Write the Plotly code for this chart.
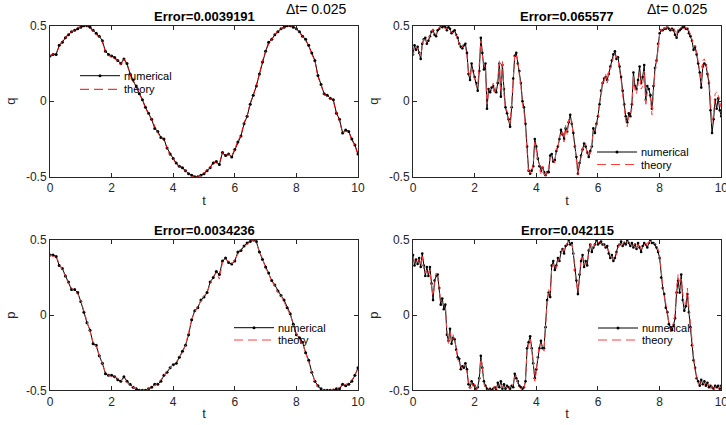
import plotly.graph_objects as go

W, H = 726, 425

# ---------------- data ----------------
dt_left = 0.1
dt_right = 0.05
t_left = [round(i * dt_left, 3) for i in range(101)]
t_right = [round(i * dt_right, 3) for i in range(201)]

# top-left: q (numerical / theory)
q_num_L = [0.30, 0.31, 0.31, 0.37, 0.39, 0.42, 0.44, 0.46, 0.47, 0.48,
           0.49, 0.50, 0.50, 0.49, 0.47, 0.45, 0.43, 0.40, 0.33, 0.31,
           0.30, 0.29, 0.27, 0.25, 0.28, 0.25, 0.18, 0.14, 0.10, 0.05,
           0.01, -0.04, -0.08, -0.12, -0.18, -0.20, -0.24, -0.25, -0.31, -0.35,
           -0.38, -0.41, -0.43, -0.44, -0.46, -0.48, -0.49, -0.50, -0.50, -0.49,
           -0.48, -0.46, -0.44, -0.41, -0.40, -0.42, -0.34, -0.36, -0.35, -0.37,
           -0.32, -0.27, -0.23, -0.15, -0.10, -0.02, 0.04, 0.10, 0.18, 0.26,
           0.33, 0.39, 0.41, 0.44, 0.46, 0.48, 0.49, 0.50, 0.50, 0.49,
           0.48, 0.46, 0.43, 0.41, 0.37, 0.32, 0.27, 0.17, 0.11, 0.05,
           0.04, 0.02, 0.01, -0.08, -0.12, -0.21, -0.19, -0.20, -0.25, -0.29,
           -0.35]
q_th_L = [0.30, 0.31, 0.32, 0.36, 0.40, 0.42, 0.45, 0.46, 0.47, 0.49,
          0.49, 0.50, 0.50, 0.48, 0.47, 0.44, 0.43, 0.39, 0.33, 0.30,
          0.30, 0.28, 0.27, 0.24, 0.28, 0.24, 0.18, 0.13, 0.10, 0.05,
          0.00, -0.04, -0.09, -0.12, -0.17, -0.21, -0.24, -0.26, -0.31, -0.36,
          -0.38, -0.42, -0.43, -0.45, -0.46, -0.48, -0.50, -0.50, -0.50, -0.49,
          -0.48, -0.45, -0.44, -0.40, -0.41, -0.41, -0.34, -0.37, -0.35, -0.36,
          -0.32, -0.26, -0.23, -0.14, -0.10, -0.01, 0.04, 0.11, 0.18, 0.27,
          0.33, 0.38, 0.41, 0.44, 0.47, 0.48, 0.49, 0.50, 0.50, 0.49,
          0.48, 0.45, 0.43, 0.40, 0.37, 0.31, 0.27, 0.16, 0.11, 0.04,
          0.04, 0.02, 0.00, -0.08, -0.13, -0.21, -0.20, -0.20, -0.26, -0.29,
          -0.36]

# bottom-left: p (numerical / theory)
p_num_L = [0.40, 0.40, 0.39, 0.33, 0.31, 0.26, 0.22, 0.17, 0.17, 0.15,
           0.09, 0.02, -0.05, -0.10, -0.19, -0.20, -0.27, -0.32, -0.39, -0.40,
           -0.40, -0.41, -0.43, -0.44, -0.41, -0.44, -0.46, -0.48, -0.49, -0.50,
           -0.50, -0.50, -0.49, -0.48, -0.46, -0.46, -0.44, -0.40, -0.38, -0.35,
           -0.33, -0.32, -0.28, -0.24, -0.20, -0.13, -0.03, 0.03, 0.05, 0.10,
           0.12, 0.15, 0.22, 0.25, 0.29, 0.27, 0.36, 0.38, 0.35, 0.34,
           0.36, 0.42, 0.43, 0.46, 0.48, 0.49, 0.50, 0.49, 0.42, 0.37,
           0.32, 0.28, 0.23, 0.20, 0.16, 0.13, 0.10, 0.05, 0.01, -0.06,
           -0.13, -0.15, -0.18, -0.25, -0.30, -0.38, -0.44, -0.47, -0.49, -0.50,
           -0.50, -0.50, -0.50, -0.49, -0.49, -0.46, -0.47, -0.46, -0.44, -0.40,
           -0.35]
p_th_L = [0.40, 0.39, 0.39, 0.34, 0.30, 0.26, 0.21, 0.18, 0.16, 0.14,
          0.10, 0.02, -0.04, -0.11, -0.18, -0.21, -0.27, -0.33, -0.38, -0.40,
          -0.41, -0.41, -0.42, -0.44, -0.42, -0.45, -0.46, -0.48, -0.49, -0.50,
          -0.50, -0.50, -0.49, -0.47, -0.47, -0.45, -0.43, -0.40, -0.37, -0.35,
          -0.33, -0.31, -0.28, -0.25, -0.20, -0.12, -0.03, 0.02, 0.06, 0.10,
          0.13, 0.15, 0.21, 0.26, 0.28, 0.24, 0.35, 0.37, 0.36, 0.34,
          0.37, 0.41, 0.44, 0.46, 0.47, 0.49, 0.50, 0.48, 0.42, 0.38,
          0.31, 0.28, 0.22, 0.20, 0.15, 0.13, 0.09, 0.05, 0.00, -0.06,
          -0.12, -0.16, -0.19, -0.25, -0.31, -0.37, -0.44, -0.48, -0.49, -0.50,
          -0.50, -0.50, -0.49, -0.49, -0.48, -0.46, -0.46, -0.45, -0.43, -0.40,
          -0.36]

# top-right: q (numerical / theory)
q_num_R = [0.31, 0.37, 0.34, 0.36, 0.32, 0.28, 0.38, 0.41, 0.42, 0.38,
           0.40, 0.43, 0.46, 0.47, 0.44, 0.43, 0.47, 0.48, 0.50, 0.49,
           0.50, 0.49, 0.47, 0.49, 0.48, 0.45, 0.46, 0.47, 0.44, 0.42,
           0.38, 0.36, 0.35, 0.37, 0.38, 0.32, 0.18, 0.14, 0.25, 0.20,
           0.16, 0.12, 0.07, 0.20, 0.42, 0.32, 0.21, 0.25, -0.05, 0.08,
           0.06, 0.09, 0.10, 0.07, 0.06, 0.12, 0.25, 0.03, 0.24, 0.08,
           -0.04, -0.08, -0.12, -0.17, -0.04, 0.15, 0.30, 0.32, 0.25, 0.20,
           0.12, 0.00, -0.04, -0.15, -0.30, -0.46, -0.48, -0.46, -0.43, -0.25,
           -0.30, -0.38, -0.43, -0.46, -0.44, -0.47, -0.49, -0.47, -0.47, -0.36,
           -0.35, -0.40, -0.39, -0.33, -0.30, -0.25, -0.19, -0.22, -0.25, -0.18,
           -0.20, -0.14, -0.09, -0.15, -0.21, -0.30, -0.37, -0.48, -0.41, -0.36,
           -0.32, -0.28, -0.30, -0.34, -0.37, -0.33, -0.30, -0.18, -0.21, -0.15,
           -0.10, -0.02, 0.07, 0.12, 0.15, 0.16, 0.14, 0.18, 0.23, 0.27,
           0.31, 0.33, 0.28, 0.29, 0.23, 0.16, 0.07, -0.02, -0.10, -0.14,
           -0.08, -0.10, -0.02, 0.19, 0.10, 0.08, 0.14, 0.23, 0.12, 0.16,
           0.24, 0.01, 0.10, 0.08, 0.04, -0.05, 0.10, 0.22, 0.27, 0.38,
           0.45, 0.47, 0.47, 0.48, 0.48, 0.49, 0.48, 0.47, 0.48, 0.47,
           0.44, 0.42, 0.46, 0.47, 0.48, 0.49, 0.49, 0.48, 0.48, 0.45,
           0.43, 0.40, 0.34, 0.36, 0.31, 0.25, 0.19, 0.09, 0.23, 0.25,
           0.24, 0.18, 0.12, -0.06, -0.21, -0.12, 0.01, -0.05, 0.02, -0.06,
           -0.10]
q_th_R = [0.30, 0.35, 0.36, 0.34, 0.31, 0.30, 0.36, 0.42, 0.40, 0.39,
          0.41, 0.44, 0.45, 0.48, 0.45, 0.44, 0.46, 0.49, 0.49, 0.50,
          0.49, 0.48, 0.48, 0.47, 0.47, 0.46, 0.45, 0.46, 0.43, 0.40,
          0.37, 0.35, 0.36, 0.38, 0.36, 0.30, 0.20, 0.16, 0.22, 0.18,
          0.15, 0.10, 0.10, 0.24, 0.40, 0.30, 0.24, 0.22, -0.02, 0.06,
          0.08, 0.07, 0.12, 0.05, 0.09, 0.15, 0.27, 0.06, 0.27, 0.05,
          -0.06, -0.06, -0.14, -0.15, -0.01, 0.18, 0.31, 0.30, 0.27, 0.17,
          0.10, -0.02, -0.07, -0.18, -0.32, -0.48, -0.47, -0.48, -0.41, -0.27,
          -0.33, -0.40, -0.41, -0.48, -0.43, -0.49, -0.50, -0.45, -0.44, -0.38,
          -0.37, -0.38, -0.41, -0.31, -0.32, -0.23, -0.22, -0.20, -0.27, -0.16,
          -0.22, -0.12, -0.11, -0.13, -0.24, -0.28, -0.40, -0.49, -0.39, -0.38,
          -0.30, -0.30, -0.28, -0.36, -0.35, -0.35, -0.28, -0.20, -0.19, -0.17,
          -0.12, 0.00, 0.05, 0.14, 0.13, 0.18, 0.12, 0.20, 0.21, 0.25,
          0.29, 0.31, 0.30, 0.27, 0.21, 0.14, 0.04, -0.05, -0.13, -0.17,
          -0.10, -0.08, -0.05, 0.17, 0.07, 0.05, 0.11, 0.20, 0.08, 0.10,
          0.20, -0.03, 0.06, 0.04, 0.02, -0.09, 0.07, 0.20, 0.25, 0.36,
          0.44, 0.48, 0.46, 0.49, 0.47, 0.50, 0.47, 0.48, 0.47, 0.49,
          0.46, 0.44, 0.49, 0.48, 0.49, 0.50, 0.48, 0.49, 0.47, 0.47,
          0.44, 0.41, 0.36, 0.37, 0.33, 0.27, 0.20, 0.12, 0.27, 0.28,
          0.25, 0.20, 0.15, 0.00, -0.15, -0.08, 0.05, 0.06, 0.04, 0.00,
          -0.05]

# bottom-right: p (numerical / theory)
p_num_R = [0.40, 0.33, 0.37, 0.34, 0.38, 0.32, 0.41, 0.33, 0.26, 0.32,
           0.26, 0.32, 0.21, 0.10, 0.23, 0.26, 0.27, 0.18, 0.07, 0.11,
           0.04, 0.07, -0.13, -0.17, -0.09, -0.19, -0.15, -0.16, -0.23, -0.28,
           -0.29, -0.36, -0.34, -0.35, -0.32, -0.36, -0.46, -0.48, -0.44, -0.46,
           -0.47, -0.49, -0.48, -0.42, -0.27, -0.35, -0.44, -0.47, -0.49, -0.50,
           -0.49, -0.50, -0.49, -0.48, -0.50, -0.45, -0.48, -0.44, -0.49, -0.46,
           -0.49, -0.47, -0.48, -0.49, -0.47, -0.48, -0.39, -0.42, -0.44, -0.47,
           -0.48, -0.49, -0.48, -0.44, -0.22, -0.18, -0.14, -0.22, -0.32, -0.42,
           -0.36, -0.28, -0.22, -0.17, -0.22, -0.22, -0.08, 0.10, 0.15, 0.12,
           0.33, 0.36, 0.30, 0.33, 0.38, 0.36, 0.42, 0.44, 0.41, 0.46,
           0.47, 0.50, 0.47, 0.48, 0.41, 0.30, 0.23, 0.14, 0.27, 0.36,
           0.40, 0.32, 0.36, 0.33, 0.43, 0.47, 0.42, 0.45, 0.47, 0.50,
           0.47, 0.48, 0.49, 0.47, 0.47, 0.45, 0.46, 0.41, 0.38, 0.40,
           0.36, 0.38, 0.42, 0.46, 0.47, 0.49, 0.46, 0.48, 0.47, 0.50,
           0.48, 0.46, 0.48, 0.45, 0.47, 0.44, 0.48, 0.45, 0.42, 0.46,
           0.48, 0.47, 0.45, 0.48, 0.50, 0.48, 0.48, 0.47, 0.45, 0.42,
           0.38, 0.25, 0.18, 0.14, 0.05, 0.02, -0.06, -0.08, -0.10, -0.07,
           -0.02, 0.15, 0.23, 0.15, 0.27, 0.10, 0.03, 0.06, 0.14, 0.02,
           -0.08, -0.20, -0.30, -0.35, -0.42, -0.44, -0.47, -0.43, -0.46, -0.44,
           -0.47, -0.45, -0.48, -0.47, -0.48, -0.49, -0.47, -0.48, -0.47, -0.49,
           -0.47]
p_th_R = [0.39, 0.35, 0.36, 0.36, 0.37, 0.34, 0.39, 0.30, 0.28, 0.30,
          0.28, 0.30, 0.19, 0.13, 0.20, 0.28, 0.25, 0.16, 0.09, 0.08,
          0.06, 0.05, -0.10, -0.19, -0.11, -0.17, -0.13, -0.18, -0.21, -0.30,
          -0.31, -0.34, -0.36, -0.33, -0.34, -0.38, -0.44, -0.49, -0.45, -0.48,
          -0.46, -0.50, -0.47, -0.44, -0.29, -0.33, -0.46, -0.48, -0.50, -0.49,
          -0.50, -0.49, -0.50, -0.47, -0.49, -0.47, -0.46, -0.46, -0.48, -0.47,
          -0.48, -0.48, -0.49, -0.48, -0.48, -0.46, -0.41, -0.40, -0.46, -0.48,
          -0.49, -0.48, -0.49, -0.42, -0.24, -0.20, -0.16, -0.24, -0.30, -0.44,
          -0.38, -0.26, -0.20, -0.19, -0.20, -0.24, -0.06, 0.08, 0.17, 0.14,
          0.31, 0.34, 0.32, 0.31, 0.36, 0.38, 0.40, 0.45, 0.43, 0.45,
          0.48, 0.49, 0.48, 0.47, 0.43, 0.28, 0.21, 0.16, 0.25, 0.38,
          0.38, 0.34, 0.34, 0.35, 0.41, 0.48, 0.44, 0.46, 0.48, 0.49,
          0.48, 0.49, 0.48, 0.48, 0.46, 0.46, 0.45, 0.43, 0.40, 0.38,
          0.38, 0.40, 0.40, 0.45, 0.48, 0.48, 0.47, 0.49, 0.48, 0.49,
          0.49, 0.47, 0.47, 0.46, 0.48, 0.45, 0.47, 0.47, 0.44, 0.45,
          0.47, 0.48, 0.46, 0.49, 0.49, 0.49, 0.47, 0.48, 0.46, 0.44,
          0.40, 0.27, 0.20, 0.12, 0.08, 0.00, -0.04, -0.10, -0.08, -0.05,
          0.01, 0.19, 0.27, 0.18, 0.24, 0.13, 0.06, 0.08, 0.18, 0.05,
          -0.05, -0.17, -0.28, -0.37, -0.40, -0.46, -0.45, -0.45, -0.44, -0.46,
          -0.45, -0.47, -0.46, -0.49, -0.47, -0.50, -0.48, -0.47, -0.49, -0.48,
          -0.48]

titles = ["Error=0.0039191", "Error=0.065577", "Error=0.0034236", "Error=0.042115"]
ylabels = ["q", "q", "p", "p"]
dt_label = "\u0394t= 0.025"
x_ticks = [0, 2, 4, 6, 8, 10]
y_ticks = [-0.5, 0, 0.5]
y_ticktext = ["-0.5", "0", "0.5"]

# ---------------- layout helpers ----------------
FONT = "Liberation Sans, Arial, Helvetica, sans-serif"
AX = "#262626"

def px_x(px):
    return px / W

def px_y(py):
    return 1 - py / H

xdom = {"L": [px_x(50), px_x(358)], "R": [px_x(413), px_x(721.3)]}
ydom = {"T": [px_y(176.7), px_y(25.7)], "B": [px_y(390.3), px_y(240)]}

panels = [
    dict(ax="", col="L", row="T", t=t_left, num=q_num_L, th=q_th_L, thc="#ff0000",
         leg=(80, 120, 75.7, 89.3)),
    dict(ax="2", col="R", row="T", t=t_right, num=q_num_R, th=q_th_R, thc="#ff4040",
         leg=(597, 637, 152, 164.5)),
    dict(ax="3", col="L", row="B", t=t_left, num=p_num_L, th=p_th_L, thc="#ff4040",
         leg=(234, 274, 327.7, 340)),
    dict(ax="4", col="R", row="B", t=t_right, num=p_num_R, th=p_th_R, thc="#ff4040",
         leg=(598, 638, 328, 340)),
]

fig = go.Figure()
shapes = []
annotations = []

for i, pnl in enumerate(panels):
    xa = "x" + pnl["ax"]
    ya = "y" + pnl["ax"]
    msize = 3 if pnl["col"] == "L" else 2.6
    fig.add_trace(go.Scatter(
        x=pnl["t"], y=pnl["num"], xaxis=xa, yaxis=ya, mode="lines+markers",
        name="numerical", showlegend=False,
        line=dict(color="black", width=1),
        marker=dict(color="black", size=msize, line=dict(width=0)),
    ))
    fig.add_trace(go.Scatter(
        x=pnl["t"], y=pnl["th"], xaxis=xa, yaxis=ya, mode="lines",
        name="theory", showlegend=False,
        line=dict(color=pnl["thc"], width=1, dash="5px,3px"),
    ))

    axkey = "xaxis" + pnl["ax"]
    aykey = "yaxis" + pnl["ax"]
    common = dict(
        showline=True, linecolor=AX, linewidth=1, mirror="ticks",
        ticks="inside", ticklen=4, tickcolor=AX, tickwidth=1,
        showgrid=False, zeroline=False, automargin=False,
        ticklabeloverflow="allow",
        tickfont=dict(family=FONT, size=12, color=AX),
    )
    fig.layout[axkey] = dict(
        domain=xdom[pnl["col"]], anchor=ya, range=[0, 10],
        tickvals=x_ticks, ticktext=[str(v) for v in x_ticks],
        title=dict(text="t", font=dict(family=FONT, size=13, color=AX), standoff=1),
        **common,
    )
    fig.layout[aykey] = dict(
        domain=ydom[pnl["row"]], anchor=xa, range=[-0.5, 0.5],
        tickvals=y_ticks, ticktext=y_ticktext,
        title=dict(text=ylabels[i], font=dict(family=FONT, size=13, color=AX), standoff=7),
        **common,
    )

    # title
    xc = (xdom[pnl["col"]][0] + xdom[pnl["col"]][1]) / 2
    ytop = 25.7 if pnl["row"] == "T" else 240
    annotations.append(dict(
        text="<b>" + titles[i] + "</b>", x=xc, y=px_y(ytop - 9.5), xref="paper", yref="paper",
        showarrow=False, xanchor="center", yanchor="middle",
        font=dict(family=FONT, size=13, color="black"),
    ))

    # manual legend (MATLAB-style, no box)
    x0, x1, yn, yt = pnl["leg"]
    shapes.append(dict(type="line", xref="paper", yref="paper",
                       x0=px_x(x0), x1=px_x(x1), y0=px_y(yn), y1=px_y(yn),
                       line=dict(color="black", width=1)))
    xm = (x0 + x1) / 2
    shapes.append(dict(type="circle", xref="paper", yref="paper",
                       x0=px_x(xm - 1.5), x1=px_x(xm + 1.5), y0=px_y(yn + 1.5), y1=px_y(yn - 1.5),
                       fillcolor="black", line=dict(color="black", width=0)))
    shapes.append(dict(type="line", xref="paper", yref="paper",
                       x0=px_x(x0), x1=px_x(x1), y0=px_y(yt), y1=px_y(yt),
                       line=dict(color=pnl["thc"], width=1, dash="9px,5px")))
    for label, yy in (("numerical", yn), ("theory", yt)):
        annotations.append(dict(
            text=label, x=px_x(x1 + 2), y=px_y(yy), xref="paper", yref="paper",
            showarrow=False, xanchor="left", yanchor="middle",
            font=dict(family=FONT, size=11, color="black"),
        ))

# Δt labels above the top panels
for xc in (316, 677):
    annotations.append(dict(
        text=dt_label, x=px_x(xc), y=px_y(9), xref="paper", yref="paper",
        showarrow=False, xanchor="center", yanchor="middle",
        font=dict(family=FONT, size=14, color="black"),
    ))

fig.update_layout(
    width=W, height=H,
    margin=dict(l=0, r=0, t=0, b=0, pad=0, autoexpand=False),
    paper_bgcolor="white", plot_bgcolor="white",
    showlegend=False,
    shapes=shapes, annotations=annotations,
)

fig.write_html(
    "out.html",
    config={"displayModeBar": False, "staticPlot": True},
    post_script="document.body.style.margin='0';document.body.style.overflow='hidden';",
)
